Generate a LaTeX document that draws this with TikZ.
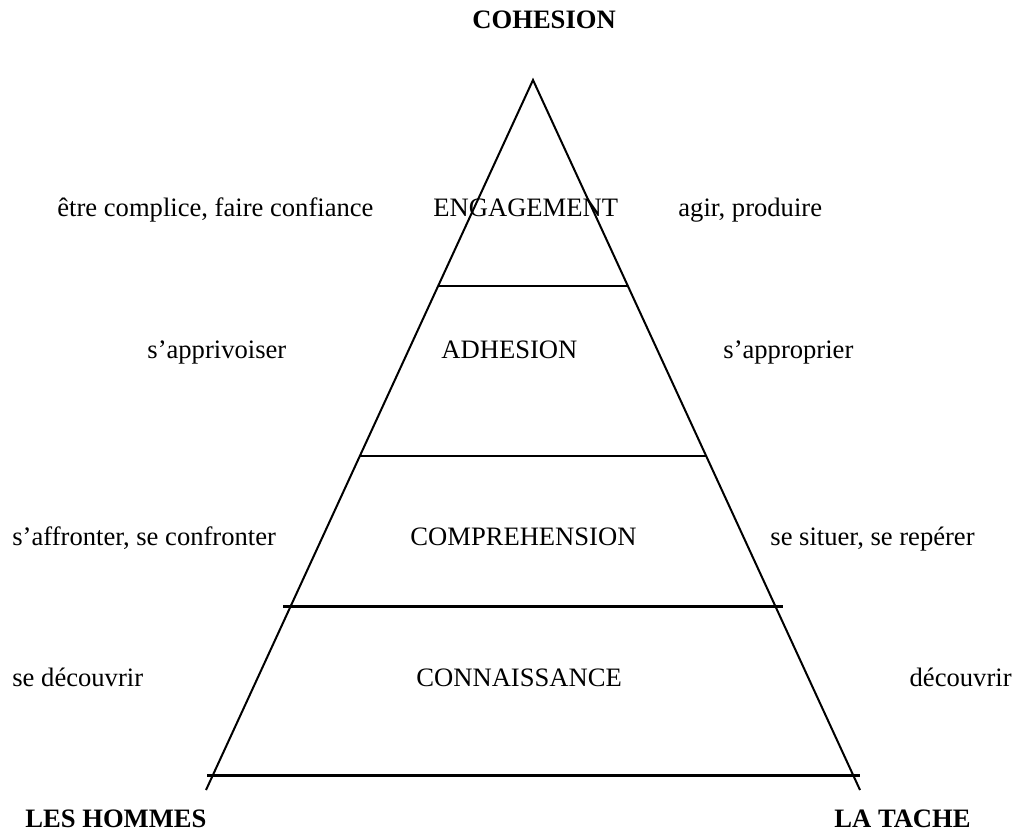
\documentclass[tikz,border=0pt]{standalone}
\usepackage{fontspec}
\setmainfont{Liberation Serif}
\usetikzlibrary{positioning}

\begin{document}
\begin{tikzpicture}[x=0.5pt, y=-0.5pt,
  lbl/.style={anchor=base west, inner sep=0pt, font=\fontsize{13.3}{16}\selectfont},
  ttl/.style={lbl, font=\fontsize{13.3}{16}\selectfont\bfseries},
  edge/.style={line width=1pt, line cap=butt},
  level/.style={line width=1.2pt}
]
  \useasboundingbox (0,0) rectangle (1015,832);

  % pyramid
  \coordinate (apex) at (533,80);
  \coordinate (footl) at (206,790);
  \coordinate (footr) at (860,790);
  \draw[edge] (footl) -- (apex) -- (footr);

  % levels
  \coordinate (l1a) at (438,286); \coordinate (l1b) at (628,286);
  \coordinate (l2a) at (360,456); \coordinate (l2b) at (707,456);
  \coordinate (l3a) at (283,606); \coordinate (l3b) at (783,606);
  \coordinate (l4a) at (207,775); \coordinate (l4b) at (860,775);
  \draw[level] (l1a) -- (l1b);
  \draw[level] (l2a) -- (l2b);
  \draw[level, line width=1.5pt] (l3a) -- (l3b);
  \draw[level, line width=1.5pt] (l4a) -- (l4b);

  % corners
  \node[ttl] (cohesion) at (472,28) {COHESION};
  \node[ttl] (hommes) at (25,827) {LES HOMMES};
  \node[ttl] (tache) at (834,827) {LA TACHE};

  % stages
  \node[lbl] (engag) at (433,216) {ENGAGEMENT};
  \node[lbl] (adhes) at (441,358) {ADHESION};
  \node[lbl] (compr) at (410,545) {COMPREHENSION};
  \node[lbl] (conna) at (416,686) {CONNAISSANCE};

  % left side
  \node[lbl] (engagl) at (57,216) {être complice, faire confiance};
  \node[lbl] (adhesl) at (147,358) {s’apprivoiser};
  \node[lbl] (comprl) at (12,545) {s’affronter, se confronter};
  \node[lbl] (connal) at (12,686) {se découvrir};

  % right side
  \node[lbl] (engagr) at (678,216) {agir, produire};
  \node[lbl] (adhesr) at (723,358) {s’approprier};
  \node[lbl] (comprr) at (770,545) {se situer, se repérer};
  \node[lbl, anchor=base east] (connar) at (1012,686) {découvrir};
\end{tikzpicture}
\end{document}
